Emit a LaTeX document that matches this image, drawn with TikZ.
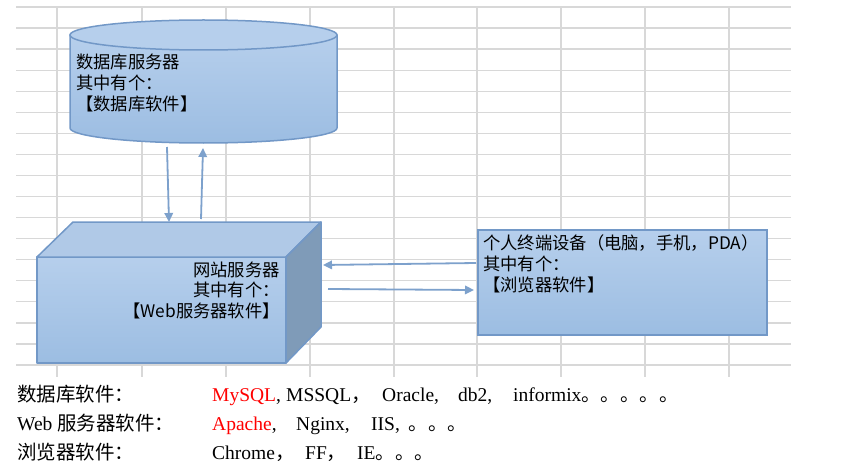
\documentclass[tikz,border=0pt]{standalone}
\usepackage{fontspec}
\setmainfont{Liberation Serif}
\newfontfamily\cjk{Noto Sans CJK SC}
\usetikzlibrary{arrows.meta}
\definecolor{gridc}{RGB}{216,216,216}
\definecolor{ftop}{RGB}{182,207,236}
\definecolor{fbot}{RGB}{156,189,226}
\definecolor{topface}{RGB}{176,201,231}
\definecolor{edgec}{RGB}{114,152,199}
\definecolor{sidec}{RGB}{127,155,184}
\definecolor{arrc}{RGB}{125,161,204}
\begin{document}
\begin{tikzpicture}[x=1pt,y=-1pt,
  gridline/.style={draw=gridc,line width=1.3pt},
  shapebody/.style={top color=ftop,bottom color=fbot,draw=edgec,line width=1.5pt,line join=round},
  conn/.style={draw=arrc,line width=1.8pt,-{Triangle[length=9pt,width=8.5pt]}},
  dtext/.style={inner sep=0pt,font=\cjk\fontsize{17.3}{20.7}\selectfont},
  btext/.style={inner sep=0pt,anchor=base west,font=\fontsize{19.5}{23}\selectfont},
]
\useasboundingbox (0,0) rectangle (856,468);
\fill[white] (0,0) rectangle (856,468);
% grid
\foreach \i in {0,...,17} \draw[gridline] (16,{7+21.06*\i}) -- (791,{7+21.06*\i});
\foreach \x in {57,142,226,310,394,477,561,645,729} \draw[gridline] (\x,7) -- (\x,377);

% database cylinder
\shade[shapebody] (70,35) -- (70,128) arc[start angle=180,end angle=0,x radius=133.5,y radius=15] -- (337,35) -- cycle;
\draw[fill=ftop,draw=edgec,line width=1.5pt] (203.5,35) ellipse[x radius=133.5,y radius=15];
\node[dtext,anchor=base west] (db1) at (76,69) {数据库服务器};
\node[dtext,anchor=base west] (db2) at (76,90) {其中有个：};
\node[dtext,anchor=base west] (db3) at (76,110.5) {【数据库软件】};

% web server cube
\shade[shapebody] (37,257) rectangle (286,363);
\fill[topface,draw=edgec,line width=1.5pt,line join=round] (37,257) -- (73,222) -- (321,222) -- (286,257) -- cycle;
\fill[sidec,draw=edgec,line width=1.5pt,line join=round] (286,257) -- (321,222) -- (321,327) -- (286,363) -- cycle;
\node[dtext,anchor=base east] (web1) at (280,276) {网站服务器};
\node[dtext,anchor=base east] (web2) at (280,296.5) {其中有个：};
\node[dtext,anchor=base east] (web3) at (280,317) {【Web服务器软件】};

% client box
\shade[top color=ftop,bottom color=fbot,draw=edgec,line width=2.5pt] (478,230) rectangle (767,335);
\node[dtext,anchor=base west] (pc1) at (483,249.6) {个人终端设备（电脑，手机，PDA）};
\node[dtext,anchor=base west] (pc2) at (483,270.6) {其中有个：};
\node[dtext,anchor=base west] (pc3) at (483,291) {【浏览器软件】};

% connectors
\coordinate (dbOut) at (167,147);
\coordinate (webIn) at (169,222);
\coordinate (webOut) at (201,219);
\coordinate (dbIn) at (203,148);
\coordinate (pcOut) at (476,263);
\coordinate (webInR) at (323,265);
\coordinate (webOutR) at (328,289);
\coordinate (pcIn) at (474,290);
\draw[conn] (dbOut) -- (webIn);
\draw[conn] (webOut) -- (dbIn);
\draw[conn] (pcOut) -- (webInR);
\draw[conn] (webOutR) -- (pcIn);

% bottom lists
\node[btext] (l1) at (17,401.7) {\cjk 数据库软件：};
\node[btext] (l2) at (17,430) {Web {\cjk 服务器软件：}};
\node[btext] (l3) at (17,459) {\cjk 浏览器软件：};

\node[btext] (a1) at (212,401.7) {{\color{red}MySQL},};
\node[btext] (a2) at (286,401.7) {MSSQL{\cjk ，}};
\node[btext] (a3) at (382,401.7) {Oracle,};
\node[btext] (a4) at (458,401.7) {db2,};
\node[btext] (a5) at (513,401.7) {informix{\cjk 。。。。。}};

\node[btext] (b1) at (212,430) {{\color{red}Apache},};
\node[btext] (b2) at (296,430) {Nginx,};
\node[btext] (b3) at (371,430) {IIS,\hspace{9pt}{\cjk 。。。}};

\node[btext] (c1) at (212,459) {Chrome{\cjk ，}};
\node[btext] (c2) at (305,459) {FF{\cjk ，}};
\node[btext] (c3) at (357,459) {IE{\cjk 。。。}};
\end{tikzpicture}
\end{document}
